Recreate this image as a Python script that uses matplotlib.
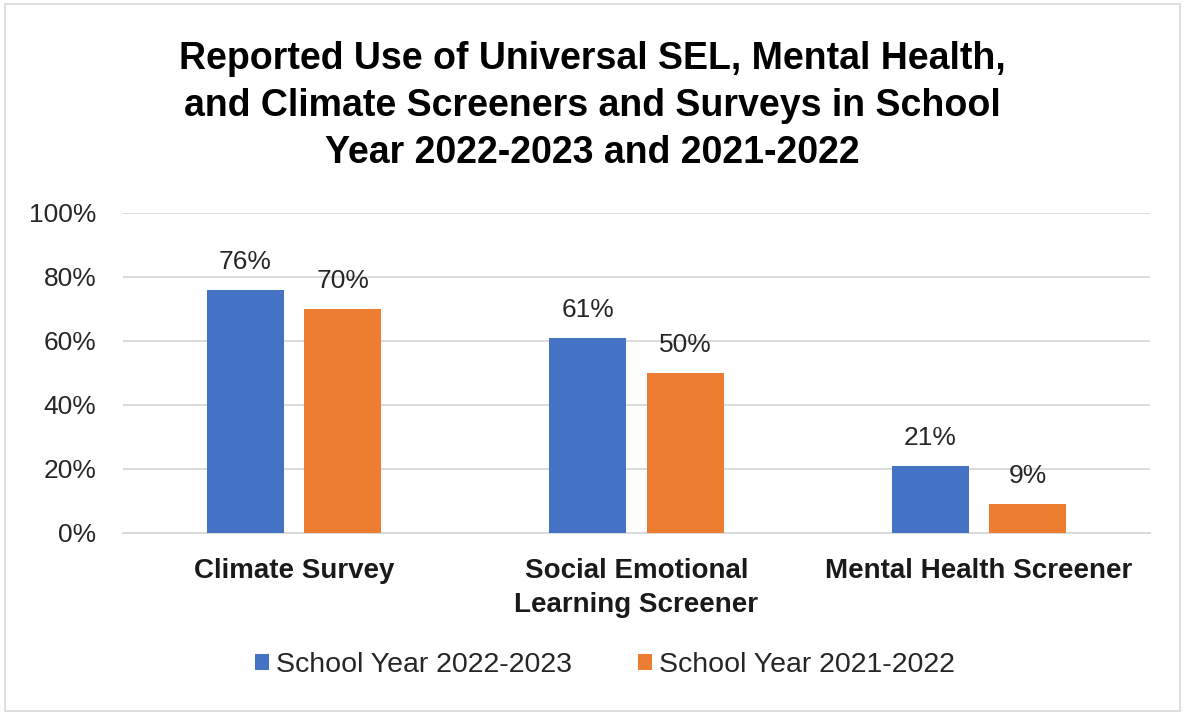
import matplotlib.pyplot as plt
import numpy as np
from matplotlib.patches import Rectangle

# Data
categories = ['Climate Survey', 'Social Emotional\nLearning Screener', 'Mental Health Screener']
sy_2223 = [76, 61, 21]
sy_2122 = [70, 50, 9]
series_names = ['School Year 2022-2023', 'School Year 2021-2022']
yticks = [0, 20, 40, 60, 80, 100]

narrow = ['Liberation Sans Narrow', 'Liberation Sans', 'DejaVu Sans']
plain = ['Liberation Sans', 'DejaVu Sans']

fig = plt.figure(figsize=(11.85, 7.15), dpi=100)
ax = fig.add_axes([123 / 1185, 1 - 533 / 715, (1150 - 123) / 1185, 320 / 715])

x = np.arange(len(categories))
w = 0.225
off = 0.142
b1 = ax.bar(x - off, sy_2223, w, color='#4472C4', label=series_names[0], zorder=3)
b2 = ax.bar(x + off, sy_2122, w, color='#ED7D31', label=series_names[1], zorder=3)

for bars, vals in [(b1, sy_2223), (b2, sy_2122)]:
    for r, v in zip(bars, vals):
        ax.text(r.get_x() + r.get_width() / 2, v + 5, f'{v}%', ha='center', va='bottom',
                fontsize=19, family=plain, color='#262626')

ax.set_xlim(-0.5, 2.5)
ax.set_ylim(0, 100)
ax.set_yticks(yticks)
ax.set_yticklabels([f'{t}%' for t in yticks], fontsize=19, family=plain, color='#262626')
ax.set_xticks(x)
ax.set_xticklabels(categories, fontsize=20, family=plain, fontweight='bold', color='#1a1a1a',
                   linespacing=1.4)
ax.tick_params(axis='both', length=0)
ax.tick_params(axis='y', pad=19)
ax.tick_params(axis='x', pad=18)
ax.yaxis.grid(True, color='#D9D9D9', linewidth=1.3, zorder=0)
for s in ['top', 'right', 'left']:
    ax.spines[s].set_visible(False)
ax.spines['bottom'].set_color('#D9D9D9')
ax.spines['bottom'].set_linewidth(1.3)

fig.text(0.5, 1 - 106 / 715,
         'Reported Use of Universal SEL, Mental Health,\nand Climate Screeners and Surveys in School\nYear 2022-2023 and 2021-2022',
         ha='center', va='center', fontsize=27, fontweight='bold', family=narrow,
         linespacing=1.4, color='black')

leg = fig.legend(handles=[b1, b2], loc='center', bbox_to_anchor=(605 / 1185, 1 - 665 / 715),
                 ncol=2, frameon=False, handlelength=0.5, handleheight=0.5, handletextpad=0.25,
                 columnspacing=2.3, prop={'family': narrow, 'size': 20.5})
for t in leg.get_texts():
    t.set_color('#262626')

fig.patches.append(Rectangle((0.004, 0.006), 0.992, 0.988, transform=fig.transFigure,
                             fill=False, edgecolor='#D9D9D9', linewidth=1.2))

fig.savefig('out.png', dpi=100)
